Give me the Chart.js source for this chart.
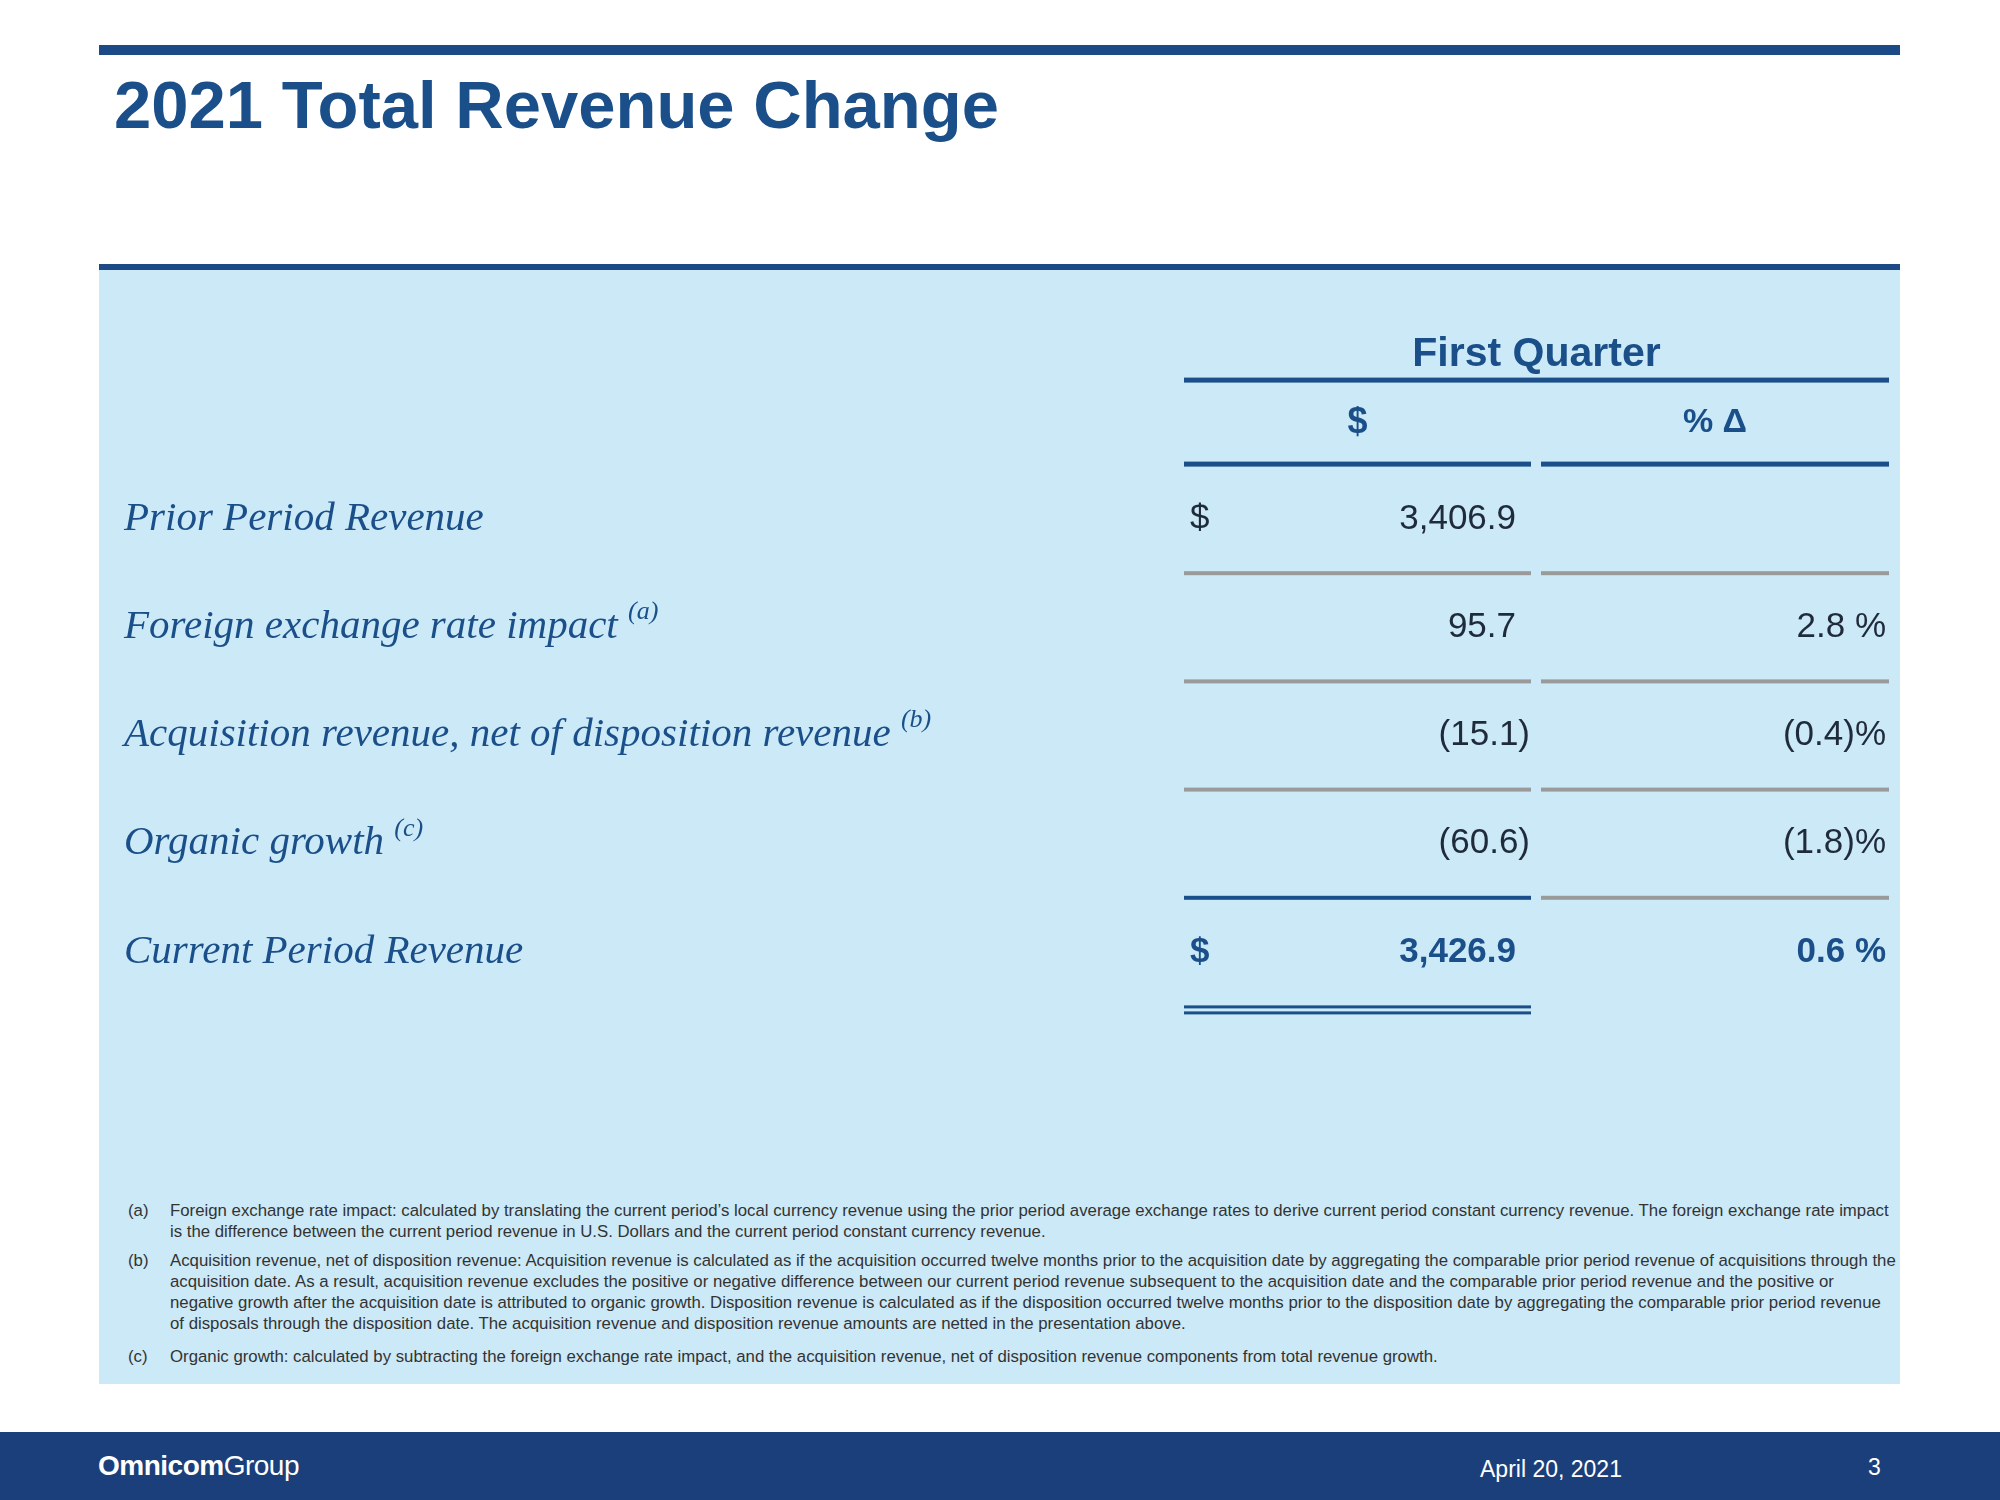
<!DOCTYPE html>
<html><head><meta charset="utf-8">
<script src="https://cdn.jsdelivr.net/npm/chart.js@4/dist/chart.umd.min.js"></script>
<style>
body{margin:0;width:2000px;height:1500px;position:relative;background:#fff;font-family:"Liberation Sans",Arial,sans-serif;overflow:hidden}
.abs{position:absolute}
#topbar{left:99px;top:45px;width:1801px;height:10px;background:#1b4a86}
#title{left:114px;top:66px;font-size:67px;font-weight:bold;color:#1a4f8a}
#panel{left:99px;top:264px;width:1801px;height:1120px;background:#cbe9f7;border-top:6px solid #1b4a86;box-sizing:border-box}
#foot{left:0;top:1432px;width:2000px;height:68px;background:#1b3f7a;color:#fff}
.fn{left:128px;font-size:16.8px;color:#333;line-height:21px;width:1770px}
.fn span{position:absolute;left:0}
.fn div{margin-left:42px}
canvas{position:absolute;left:0;top:0}
</style></head><body>
<div id="topbar" class="abs"></div>
<div id="title" class="abs">2021 Total Revenue Change</div>
<div id="panel" class="abs"></div>
<div class="abs fn" style="top:1200px"><span>(a)</span><div>Foreign exchange rate impact: calculated by translating the current period’s local currency revenue using the prior period average exchange rates to derive current period constant currency revenue. The foreign exchange rate impact is the difference between the current period revenue in U.S. Dollars and the current period constant currency revenue.</div></div>
<div class="abs fn" style="top:1250px"><span>(b)</span><div>Acquisition revenue, net of disposition revenue: Acquisition revenue is calculated as if the acquisition occurred twelve months prior to the acquisition date by aggregating the comparable prior period revenue of acquisitions through the acquisition date. As a result, acquisition revenue excludes the positive or negative difference between our current period revenue subsequent to the acquisition date and the comparable prior period revenue and the positive or negative growth after the acquisition date is attributed to organic growth. Disposition revenue is calculated as if the disposition occurred twelve months prior to the disposition date by aggregating the comparable prior period revenue of disposals through the disposition date. The acquisition revenue and disposition revenue amounts are netted in the presentation above.</div></div>
<div class="abs fn" style="top:1346px"><span>(c)</span><div>Organic growth: calculated by subtracting the foreign exchange rate impact, and the acquisition revenue, net of disposition revenue components from total revenue growth.</div></div>
<div id="foot" class="abs">
<div class="abs" style="left:98px;top:18px;font-size:28px;letter-spacing:-0.5px"><b>Omnicom</b>Group</div>
<div class="abs" style="left:1480px;top:24px;font-size:23px">April 20, 2021</div>
<div class="abs" style="left:1868px;top:22px;font-size:23px">3</div>
</div>
<canvas id="c" width="2000" height="1500"></canvas>
<script>
const categories=["Prior Period Revenue","Foreign exchange rate impact","Acquisition revenue, net of disposition revenue","Organic growth","Current Period Revenue"];
const superscripts=["","(a)","(b)","(c)",""];
const dollarValues=["3,406.9","95.7","(15.1)","(60.6)","3,426.9"];
const pctValues=["","2.8 %","(0.4)%","(1.8)%","0.6 %"];
const columnHeaders=["$","% \u0394"];
const groupHeader="First Quarter";

const navy="#1a4f8a", grey="#9a9a9a", ink="#1f2a3a";
const tablePlugin={id:"table",afterDraw(chart){
 const ctx=chart.ctx, y=chart.scales.y;
 const rowH=y.getPixelForValue(1)-y.getPixelForValue(0);
 const L1=1184,R1=1531,L2=1541,R2=1889;
 const line=(x1,x2,yy,w,c)=>{ctx.fillStyle=c;ctx.fillRect(x1,yy-w/2,x2-x1,w);};
 ctx.save();ctx.textBaseline="middle";
 const y0=y.getPixelForValue(0);
 ctx.fillStyle=navy;ctx.textAlign="center";ctx.font="bold 41px 'Liberation Sans'";
 ctx.fillText(groupHeader,(L1+R2)/2,y0-164);
 line(L1,R2,y0-139,5,navy);
 ctx.font="bold 36px 'Liberation Sans'";
 ctx.fillText(columnHeaders[0],(L1+R1)/2,y0-96);
 ctx.font="bold 34px 'Liberation Sans'";
 ctx.fillText(columnHeaders[1],(L2+R2)/2,y0-96);
 line(L1,R1,y0-55,5,navy);line(L2,R2,y0-55,5,navy);
 categories.forEach((c,i)=>{
  const yy=y.getPixelForValue(i), last=i===categories.length-1;
  ctx.textAlign="left";ctx.fillStyle=navy;
  ctx.font="italic 41px 'Liberation Serif'";
  ctx.fillText(c,124,yy);
  if(superscripts[i]){const w=ctx.measureText(c+" ").width;ctx.font="italic 26px 'Liberation Serif'";ctx.fillText(superscripts[i],124+w,yy-15);}
  ctx.font=(last?"bold ":"")+"35px 'Liberation Sans'";
  ctx.fillStyle=last?navy:ink;
  if(i===0||last) ctx.fillText("$",1190,yy);
  ctx.textAlign="right";
  const dv=dollarValues[i];
  ctx.fillText(dv,dv.endsWith(")")?1530:1516,yy);
  if(pctValues[i]) ctx.fillText(pctValues[i],1886,yy);
  if(!last){
   const sy=yy+rowH/2;
   line(L1,R1,sy,4,i===categories.length-2?navy:grey);
   line(L2,R2,sy,4,grey);
  } else {
   line(L1,R1,yy+55,3,navy);line(L1,R1,yy+61,3,navy);
  }
 });
 ctx.restore();
}};
new Chart(document.getElementById("c"),{
 type:"bar",
 data:{labels:categories,datasets:[{data:categories.map(()=>0)}]},
 options:{indexAxis:"y",responsive:false,devicePixelRatio:1,animation:false,
  layout:{padding:{top:465,bottom:494,left:0,right:0}},
  plugins:{legend:{display:false},tooltip:{enabled:false}},
  scales:{y:{display:false},x:{display:false,min:0,max:1}}},
 plugins:[tablePlugin]
});
</script>
</body></html>
